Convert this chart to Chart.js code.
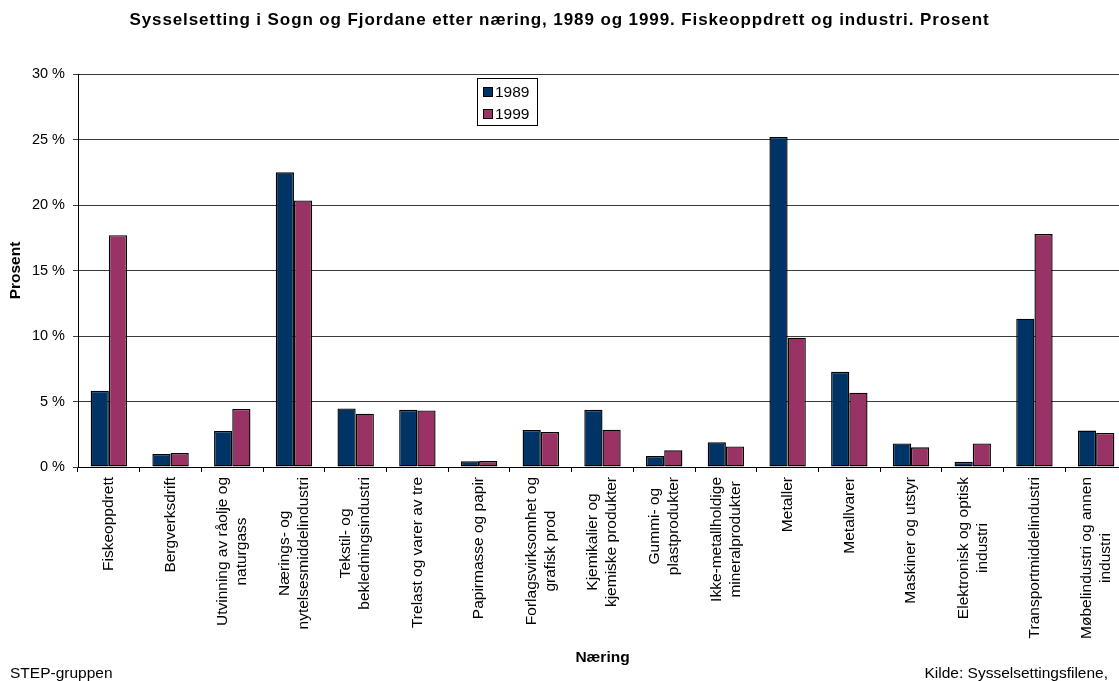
<!DOCTYPE html>
<html>
<head>
<meta charset="utf-8">
<script src="https://cdn.jsdelivr.net/npm/chart.js@4/dist/chart.umd.min.js"></script>
<style>
  html, body { margin: 0; padding: 0; background: #fff; overflow: hidden; width: 1119px; height: 681px; }
  body { position: relative; font-family: "Liberation Sans", Arial, sans-serif; color: #000; }
  #wrap { position: absolute; left: 0; top: 0; width: 1127px; height: 681px; }
  #titre { position: absolute; left: 0; top: 10px; width: 1119px; text-align: center; font-weight: bold; font-size: 17px; line-height: 20px; letter-spacing: 0.9px; }
  .pied { position: absolute; top: 664px; font-size: 15.5px; line-height: 18px; }
</style>
</head>
<body>
<div id="wrap"><canvas id="graph"></canvas></div>
<div id="titre">Sysselsetting i Sogn og Fjordane etter næring, 1989 og 1999. Fiskeoppdrett og industri. Prosent</div>
<div class="pied" style="left:10px">STEP-gruppen</div>
<div class="pied" style="right:11px">Kilde: Sysselsettingsfilene,</div>
<script>
// catégories (næringer), une ligne par ligne de texte
const naeringer = [
  ['Fiskeoppdrett'],
  ['Bergverksdrift'],
  ['Utvinning av råolje og', 'naturgass'],
  ['Nærings- og', 'nytelsesmiddelindustri'],
  ['Tekstil- og', 'bekledningsindustri'],
  ['Trelast og varer av tre'],
  ['Papirmasse og papir'],
  ['Forlagsvirksomhet og', 'grafisk prod'],
  ['Kjemikalier og', 'kjemiske produkter'],
  ['Gummi- og', 'plastprodukter'],
  ['Ikke-metallholdige', 'mineralprodukter'],
  ['Metaller'],
  ['Metallvarer'],
  ['Maskiner og utstyr'],
  ['Elektronisk og optisk', 'industri'],
  ['Transportmiddelindustri'],
  ['Møbelindustri og annen', 'industri']
]

// valeurs en %
const prosent1989 = [5.82, 0.99, 2.75, 22.5, 4.47, 4.37, 0.43, 2.82, 4.37, 0.84, 1.88, 25.2, 7.27, 1.80, 0.40, 11.32, 2.78]
const prosent1999 = [17.7, 1.07, 4.43, 20.35, 4.07, 4.32, 0.45, 2.67, 2.85, 1.27, 1.57, 9.87, 5.67, 1.50, 1.80, 17.78, 2.6]

const aarstall = ['1989', '1999']
const farger = ['#003366', '#993366']
const yTicks = [0, 5, 10, 15, 20, 25, 30]

const police = '"Liberation Sans", Arial, sans-serif'

// étiquettes de l'axe x : tournées, lignes centrées entre elles
const etiquettesX = {
  id: 'etiquettesX',
  afterDraw(chart) {
    const ctx = chart.ctx
    const xAxe = chart.scales.x
    const haut = chart.chartArea.bottom + 10
    const pas = 19
    ctx.save()
    ctx.font = '15.5px ' + police
    ctx.fillStyle = '#000'
    ctx.textAlign = 'center'
    ctx.textBaseline = 'middle'
    for (let i = 0; i < naeringer.length; i++) {
      let lignes = naeringer[i]
      let largeur = 0
      for (let l of lignes) largeur = Math.max(largeur, ctx.measureText(l).width)
      ctx.save()
      ctx.translate(xAxe.getPixelForValue(i), haut)
      ctx.rotate(-Math.PI / 2)
      for (let k = 0; k < lignes.length; k++) {
        ctx.fillText(lignes[k], -largeur / 2, (k - (lignes.length - 1) / 2) * pas)
      }
      ctx.restore()
    }
    ctx.restore()
  }
}

// légende encadrée dans la zone du graphique
const legendeBoite = {
  id: 'legendeBoite',
  afterDraw(chart) {
    const ctx = chart.ctx
    const g = chart.chartArea.left + 399
    const h = chart.chartArea.top + 4
    ctx.save()
    ctx.strokeStyle = '#000'
    ctx.lineWidth = 1
    ctx.fillStyle = '#fff'
    ctx.fillRect(g, h, 60, 47)
    ctx.strokeRect(g + 0.5, h + 0.5, 60, 47)
    ctx.font = '15.5px ' + police
    ctx.textBaseline = 'middle'
    chart.data.datasets.forEach((ds, k) => {
      ctx.fillStyle = ds.backgroundColor
      ctx.fillRect(g + 6, h + 9 + k * 22, 10, 10)
      ctx.strokeRect(g + 6.5, h + 9.5 + k * 22, 9, 9)
      ctx.fillStyle = '#000'
      ctx.fillText(ds.label, g + 18, h + 15 + k * 22)
    })
    ctx.restore()
  }
}

new Chart(document.getElementById('graph'), {
  type: 'bar',
  data: {
    labels: naeringer,
    datasets: [
      {
        label: aarstall[0],
        data: prosent1989,
        backgroundColor: farger[0],
        borderColor: '#000',
        borderWidth: 1.4,
        borderSkipped: false,
        categoryPercentage: 0.59,
        barPercentage: 1
      }, {
        label: aarstall[1],
        data: prosent1999,
        backgroundColor: farger[1],
        borderColor: '#000',
        borderWidth: 1.4,
        borderSkipped: false,
        categoryPercentage: 0.59,
        barPercentage: 1
      }
    ]
  },
  options: {
    responsive: true,
    maintainAspectRatio: false,
    animation: false,
    layout: { padding: { top: 74, left: 0, right: 0, bottom: 0 } },
    plugins: {
      legend: { display: false },
      tooltip: { enabled: false },
      title: { display: false }
    },
    scales: {
      x: {
        grid: { drawOnChartArea: false, drawTicks: true, tickLength: 5, color: '#000', offset: true },
        border: { color: '#000', width: 1 },
        ticks: { display: false },
        title: {
          display: true,
          text: 'Næring',
          color: '#000',
          font: { family: police, size: 15.5, weight: 'bold' },
          padding: { top: 0, bottom: 14 }
        },
        afterFit(scale) { scale.height = 214 }
      },
      y: {
        min: 0,
        max: 30,
        afterBuildTicks(scale) { scale.ticks = yTicks.map(v => ({ value: v })) },
        grid: { color: '#3a3a3a', lineWidth: 1, tickLength: 5 },
        border: { color: '#000', width: 1 },
        ticks: {
          padding: 8,
          color: '#000',
          font: { family: police, size: 14.5 },
          callback: v => v + ' %'
        },
        title: {
          display: true,
          text: 'Prosent',
          color: '#000',
          font: { family: police, size: 15.5, weight: 'bold' },
          padding: { top: 6, bottom: 0 }
        },
        afterFit(scale) { scale.width = 78 }
      }
    }
  },
  plugins: [etiquettesX, legendeBoite]
})
</script>
</body>
</html>
